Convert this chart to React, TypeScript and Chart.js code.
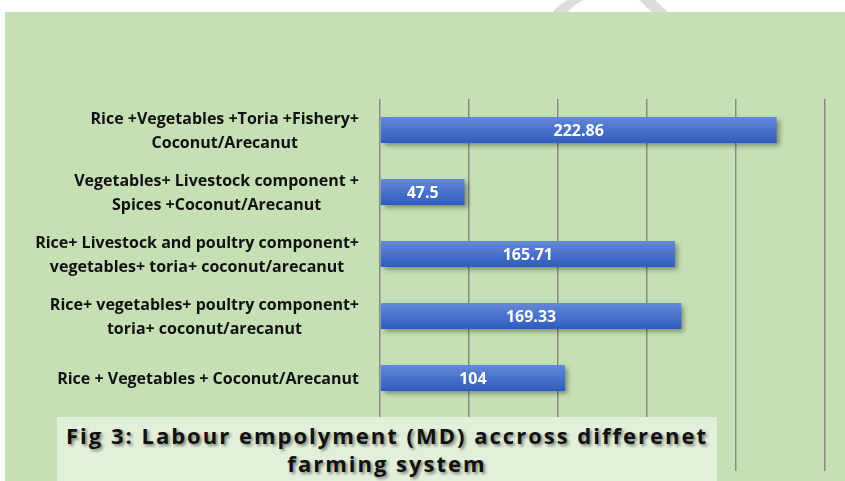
import React, { useEffect, useRef } from "react";
import { Chart, registerables } from "chart.js";

Chart.register(...registerables);

// ---- data ----
const categories: string[][] = [
  ["Rice +Vegetables +Toria +Fishery+", "Coconut/Arecanut"],
  ["Vegetables+ Livestock component +", "Spices +Coconut/Arecanut"],
  ["Rice+ Livestock and poultry component+", "vegetables+ toria+ coconut/arecanut"],
  ["Rice+ vegetables+ poultry component+", "toria+ coconut/arecanut"],
  ["Rice + Vegetables + Coconut/Arecanut"],
  [""],
];
const labourDays: (number | null)[] = [222.86, 47.5, 165.71, 169.33, 104, null];
const xMin = 0;
const xMax = 250;
const xStep = 50;
const titleLines = ["Fig 3: Labour empolyment (MD) accross differenet", "farming system"];

const LABEL_FONT = "bold 16px 'Open Sans'";
const VALUE_FONT = "bold 16px 'Open Sans'";

const shadowPlugin = {
  id: "barShadow",
  beforeDatasetsDraw(chart: any) {
    const ctx = chart.ctx;
    ctx.save();
    ctx.shadowColor = "rgba(0,0,0,0.38)";
    ctx.shadowBlur = 5;
    ctx.shadowOffsetX = 3;
    ctx.shadowOffsetY = 3;
  },
  afterDatasetsDraw(chart: any) {
    chart.ctx.restore();
  },
};

const labelPlugin = {
  id: "customLabels",
  afterDraw(chart: any) {
    const ctx = chart.ctx;
    const yScale = chart.scales.y;
    ctx.save();
    ctx.font = LABEL_FONT;
    ctx.fillStyle = "#111111";
    ctx.textAlign = "center";
    ctx.textBaseline = "middle";
    const right = chart.chartArea.left - 21;
    const lh = 24;
    categories.forEach((lines, i) => {
      const cy = yScale.getPixelForValue(i);
      const w = Math.max(...lines.map((l) => ctx.measureText(l).width));
      const cx = right - w / 2;
      lines.forEach((l, j) => {
        ctx.fillText(l, cx, cy + (j - (lines.length - 1) / 2) * lh + 1);
      });
    });
    ctx.font = VALUE_FONT;
    ctx.fillStyle = "#ffffff";
    const meta = chart.getDatasetMeta(0);
    meta.data.forEach((el: any, i: number) => {
      const v = labourDays[i];
      if (v == null) return;
      const cx = (el.x + el.base) / 2;
      ctx.fillText(String(v), cx, el.y + 1);
    });
    ctx.restore();
  },
};

export default function App() {
  const ref = useRef<HTMLCanvasElement | null>(null);

  useEffect(() => {
    if (!ref.current) return;
    const chart = new Chart(ref.current, {
      type: "bar",
      data: {
        labels: categories.map((c) => c.join(" ")),
        datasets: [
          {
            data: labourDays as any,
            backgroundColor: (c: any) => {
              const chart = c.chart;
              const ys = chart.scales && chart.scales.y;
              if (!ys || c.dataIndex == null) return "#4472c4";
              const cy = ys.getPixelForValue(c.dataIndex);
              if (!isFinite(cy)) return "#4472c4";
              const g = chart.ctx.createLinearGradient(0, cy - 13, 0, cy + 13);
              g.addColorStop(0, "#6589d6");
              g.addColorStop(1, "#2d5bbf");
              return g;
            },
            borderWidth: 0,
            categoryPercentage: 0.84,
            barPercentage: 0.5,
          },
        ],
      },
      options: {
        indexAxis: "y",
        animation: false,
        responsive: false,
        maintainAspectRatio: false,
        events: [],
        layout: { padding: { top: 99, bottom: 10, right: 20, left: 0 } },
        plugins: {
          legend: { display: false },
          tooltip: { enabled: false },
          title: { display: false },
        },
        scales: {
          x: {
            min: xMin,
            max: xMax,
            ticks: { display: false, stepSize: xStep },
            grid: { color: "#8a8a8a", lineWidth: 1.5, drawTicks: false },
            border: { display: false },
            afterFit: (s: any) => {
              s.height = 0;
            },
          },
          y: {
            ticks: { display: false },
            grid: { display: false, drawTicks: false },
            border: { display: false },
            afterFit: (s: any) => {
              s.width = 380;
            },
          },
        },
      },
      plugins: [shadowPlugin, labelPlugin],
    } as any);
    return () => chart.destroy();
  }, []);

  return (
    <div
      style={{
        position: "fixed",
        left: 0,
        top: 0,
        width: 845,
        height: 481,
        background: "#ffffff",
        overflow: "hidden",
      }}
    >
      <svg
        width={845}
        height={12}
        style={{ position: "absolute", left: 0, top: 0 }}
      >
        <path d="M553 12 L568 12 Q574 4 584 0 L568 0 Q558 5 553 12 Z" fill="#dcdcdc" />
        <path d="M639 0 L655 0 L668 12 L652 12 Z" fill="#dcdcdc" />
      </svg>
      <div
        style={{
          position: "absolute",
          left: 5,
          top: 12,
          width: 840,
          height: 469,
          background: "#c5e0b4",
        }}
      />
      <canvas
        ref={ref}
        width={845}
        height={481}
        style={{ position: "absolute", left: 0, top: 0, width: 845, height: 481 }}
      />
      <div
        style={{
          position: "absolute",
          left: 57,
          top: 417,
          width: 660,
          height: 64,
          background: "#e2efd9",
          textAlign: "center",
          fontFamily: "'Open Sans'",
          fontWeight: "bold",
          fontSize: 22,
          lineHeight: "28px",
          letterSpacing: "2px",
          whiteSpace: "nowrap",
          color: "#111111",
          textShadow: "2px 2px 3px rgba(0,0,0,0.45)",
          paddingTop: 4,
          boxSizing: "border-box",
        }}
      >
        {titleLines.map((t, i) => (
          <div key={i}>{t}</div>
        ))}
      </div>
    </div>
  );
}
